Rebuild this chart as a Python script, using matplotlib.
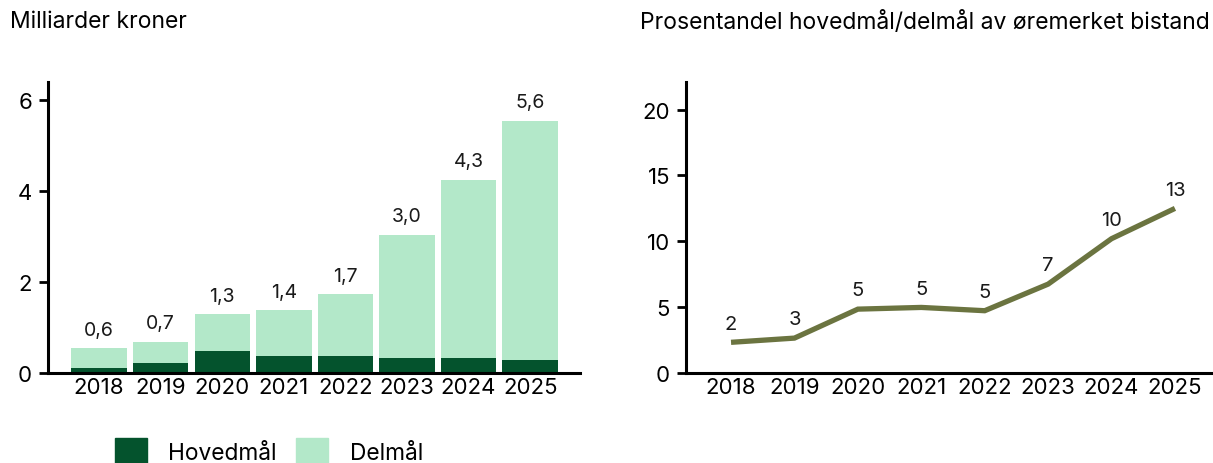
import matplotlib
matplotlib.use("Agg")
import matplotlib.pyplot as plt
from matplotlib.patches import Patch

plt.rcParams['font.family'] = ['Inter', 'DejaVu Sans']

years = ['2018', '2019', '2020', '2021', '2022', '2023', '2024', '2025']
hovedmal = [0.10, 0.23, 0.49, 0.37, 0.37, 0.34, 0.34, 0.29]
totals = [0.54, 0.69, 1.29, 1.38, 1.73, 3.04, 4.25, 5.55]
delmal = [t - h for t, h in zip(totals, hovedmal)]
total_labels = ['0,6', '0,7', '1,3', '1,4', '1,7', '3,0', '4,3', '5,6']

share = [2.33, 2.65, 4.85, 4.98, 4.73, 6.75, 10.2, 12.5]
share_labels = ['2', '3', '5', '5', '5', '7', '10', '13']

DARK = '#04532d'
LIGHT = '#b3e8c9'
LINE = '#6b7440'

W, H = 1213, 464
fig = plt.figure(figsize=(W / 100, H / 100), dpi=100)

def box(x0, x1, ytop, ybot):
    return [x0 / W, 1 - ybot / H, (x1 - x0) / W, (ybot - ytop) / H]

ax1 = fig.add_axes(box(48, 580, 83, 374))
ax2 = fig.add_axes(box(686, 1213, 83, 374))

x = list(range(len(years)))

ax1.bar(x, hovedmal, width=0.9, color=DARK, zorder=2)
ax1.bar(x, delmal, bottom=hovedmal, width=0.9, color=LIGHT, zorder=2)
for xi, t, lab in zip(x, totals, total_labels):
    ax1.annotate(lab, (xi, t), xytext=(0, 7), textcoords='offset points',
                 ha='center', va='bottom', fontsize=14, color='#1a1a1a')
ax1.set_xlim(-0.83, 7.81)
ax1.set_ylim(0, 6.4)
ax1.set_yticks([0, 2, 4, 6])

ax2.plot(x, share, color=LINE, lw=3.8, solid_capstyle='butt', solid_joinstyle='miter', zorder=3)
for xi, v, lab in zip(x, share, share_labels):
    ax2.annotate(lab, (xi, v), xytext=(0, 7), textcoords='offset points',
                 ha='center', va='bottom', fontsize=14.5, color='#1a1a1a')
ax2.set_xlim(-0.71, 7.6)
ax2.set_ylim(0, 22.1)
ax2.set_yticks([0, 5, 10, 15, 20])

for ax in (ax1, ax2):
    ax.set_xticks(x)
    ax.set_xticklabels(years)
    for s in ('top', 'right'):
        ax.spines[s].set_visible(False)
    for s in ('left', 'bottom'):
        ax.spines[s].set_linewidth(2.2)
        ax.spines[s].set_color('black')
    ax.tick_params(axis='x', length=0, pad=3, labelsize=16)
    ax.tick_params(axis='y', length=6.5, width=2, pad=5, labelsize=16)

fig.text(10 / W, 1 - 22 / H, 'Milliarder kroner', fontsize=16.5, ha='left', va='center')
fig.text(1210 / W, 1 - 22 / H, 'Prosentandel hovedmål/delmål av øremerket bistand',
         fontsize=16.5, ha='right', va='center')

handles = [Patch(color=DARK, label='Hovedmål'), Patch(color=LIGHT, label='Delmål')]
fig.legend(handles=handles, loc='center', bbox_to_anchor=(269 / W, 1 - 452 / H), ncol=2,
           frameon=False, fontsize=16.4, handlelength=1.4, handleheight=1.3,
           handletextpad=0.95, columnspacing=0.85)

fig.savefig('out.png', dpi=100)
